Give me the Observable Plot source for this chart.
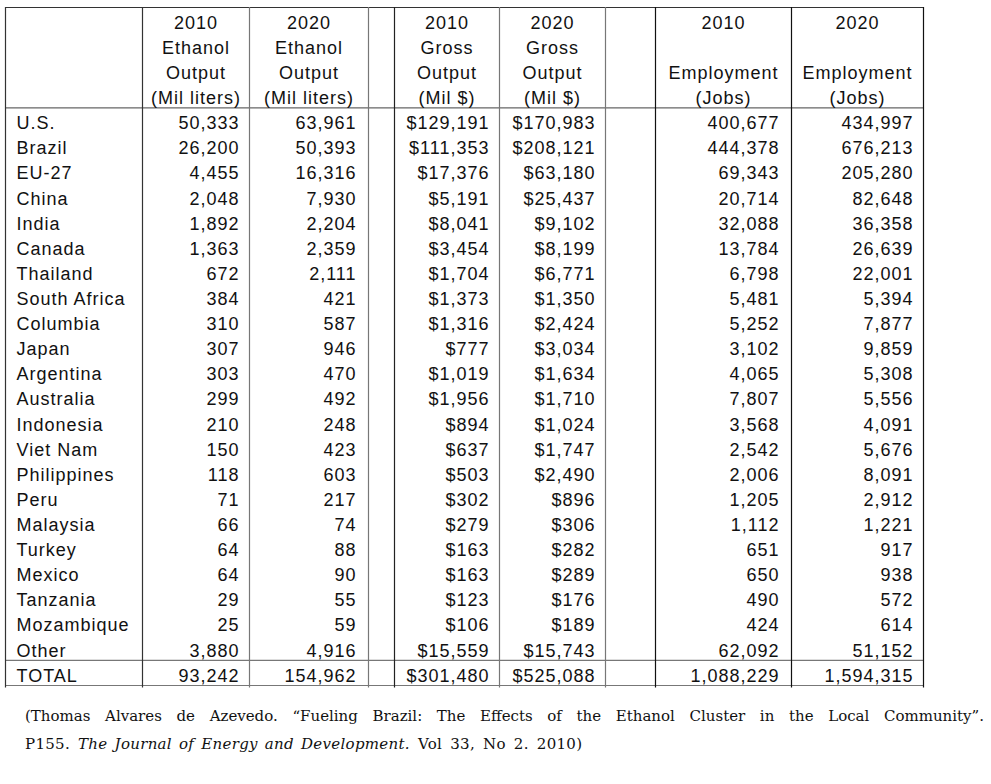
<!DOCTYPE html>
<html>
<head>
<meta charset="utf-8">
<script src="https://cdn.jsdelivr.net/npm/d3@7"></script>
<script src="https://cdn.jsdelivr.net/npm/@observablehq/plot@0.6"></script>
<style>
  html, body { margin: 0; padding: 0; background: #fff; }
  #chart svg { display: block; }
  #note { font-family: "DejaVu Serif", serif; font-size: 15px; line-height: 28px; color: #111; margin-top: 7px; padding-left: 25px; width: 959px; }
  #note .l1 { text-align: justify; text-align-last: justify; }
  #note .l2 { word-spacing: 3px; letter-spacing: 0.3px; white-space: nowrap; }
  #note .it { font-style: italic; word-spacing: 2px; }
</style>
</head>
<body>
<div id="chart"></div>
<div id="note">
  <div class="l1">(Thomas Alvares de Azevedo. “Fueling Brazil: The Effects of the Ethanol Cluster in the Local Community”.</div>
  <div class="l2">P155. <span class="it">The Journal of Energy and Development.</span> Vol 33, No 2. 2010)</div>
</div>
<script>
// ---- data ----
const countries = ["U.S.", "Brazil", "EU-27", "China", "India", "Canada", "Thailand", "South Africa", "Columbia", "Japan", "Argentina", "Australia", "Indonesia", "Viet Nam", "Philippines", "Peru", "Malaysia", "Turkey", "Mexico", "Tanzania", "Mozambique", "Other"];
const ethanol2010 = [50333, 26200, 4455, 2048, 1892, 1363, 672, 384, 310, 307, 303, 299, 210, 150, 118, 71, 66, 64, 64, 29, 25, 3880];
const ethanol2020 = [63961, 50393, 16316, 7930, 2204, 2359, 2111, 421, 587, 946, 470, 492, 248, 423, 603, 217, 74, 88, 90, 55, 59, 4916];
const gross2010 = [129191, 111353, 17376, 5191, 8041, 3454, 1704, 1373, 1316, 777, 1019, 1956, 894, 637, 503, 302, 279, 163, 163, 123, 106, 15559];
const gross2020 = [170983, 208121, 63180, 25437, 9102, 8199, 6771, 1350, 2424, 3034, 1634, 1710, 1024, 1747, 2490, 896, 306, 282, 289, 176, 189, 15743];
const employment2010 = [400677, 444378, 69343, 20714, 32088, 13784, 6798, 5481, 5252, 3102, 4065, 7807, 3568, 2542, 2006, 1205, 1112, 651, 650, 490, 424, 62092];
const employment2020 = [434997, 676213, 205280, 82648, 36358, 26639, 22001, 5394, 7877, 9859, 5308, 5556, 4091, 5676, 8091, 2912, 1221, 917, 938, 572, 614, 51152];
const totalLabel = "TOTAL";
const totals = [93242, 154962, 301480, 525088, 1088229, 1594315];
const headerLines = [
  ["2010", "Ethanol", "Output", "(Mil liters)"],
  ["2020", "Ethanol", "Output", "(Mil liters)"],
  ["2010", "Gross", "Output", "(Mil $)"],
  ["2020", "Gross", "Output", "(Mil $)"],
  ["2010", "", "Employment", "(Jobs)"],
  ["2020", "", "Employment", "(Jobs)"]
];
const series = [ethanol2010, ethanol2020, gross2010, gross2020, employment2010, employment2020];
const isDollar = [false, false, true, true, false, false];

// ---- layout (positions only) ----
const colEdges = [5, 142, 249, 368, 394, 499, 605, 655, 791, 923];
const edgeColor = ["#333", "#333", "#777", "#777", "#222", "#777", "#777", "#111", "#111", "#111"];
const colSpan = [[1, 2], [2, 3], [4, 5], [5, 6], [7, 8], [8, 9]];
const valueX = [239, 356, 489, 595, 779, 913];
const labelX = 16;
const headerRows = 4;
const nRows = headerRows + countries.length + 1;

const fmt = d3.format(",");
const fmtCell = (v, j) => (isDollar[j] ? "$" : "") + fmt(v);

const headerCells = [];
headerLines.forEach((lines, j) => {
  const [a, b] = colSpan[j];
  lines.forEach((t, r) => { if (t) headerCells.push({x: (colEdges[a] + colEdges[b]) / 2, y: r + 0.5, text: t}); });
});
const labelCells = countries.map((c, i) => ({x: labelX, y: headerRows + i + 0.5, text: c}));
labelCells.push({x: labelX, y: nRows - 0.5, text: totalLabel});
const valueCells = [];
series.forEach((arr, j) => {
  arr.forEach((v, i) => valueCells.push({x: valueX[j], y: headerRows + i + 0.5, text: fmtCell(v, j)}));
  valueCells.push({x: valueX[j], y: nRows - 0.5, text: fmtCell(totals[j], j)});
});
const hLines = [
  {y: 0, c: "#333"},
  {y: headerRows, c: "#666"},
  {y: nRows - 1, c: "#777"},
  {y: nRows, c: "#777"}
];
const vLines = colEdges.map((x, k) => ({x, c: edgeColor[k]}));

const chart = Plot.plot({
  width: 991,
  height: 695,
  margin: 0,
  x: {domain: [0, 991], range: [0, 991], axis: null},
  y: {domain: [0, nRows], range: [7, 685], axis: null},
  style: {fontFamily: "'Liberation Sans', Arial, sans-serif", letterSpacing: "1px", color: "#111", background: "#fff"},
  marks: [
    Plot.ruleY(hLines, {y: "y", x1: colEdges[0], x2: colEdges[colEdges.length - 1], stroke: "c", strokeWidth: 1.2}),
    Plot.ruleX(vLines, {x: "x", y1: 0, y2: nRows + 0.1, stroke: "c", strokeWidth: 1.2}),
    Plot.text(headerCells, {x: "x", y: "y", text: "text", textAnchor: "middle", fontSize: 18, fill: "#111", dy: 3}),
    Plot.text(labelCells, {x: "x", y: "y", text: "text", textAnchor: "start", fontSize: 18, fill: "#111", dy: 3}),
    Plot.text(valueCells, {x: "x", y: "y", text: "text", textAnchor: "end", fontSize: 18, fill: "#111", dy: 3})
  ]
});
document.getElementById("chart").appendChild(chart);
</script>
</body>
</html>
